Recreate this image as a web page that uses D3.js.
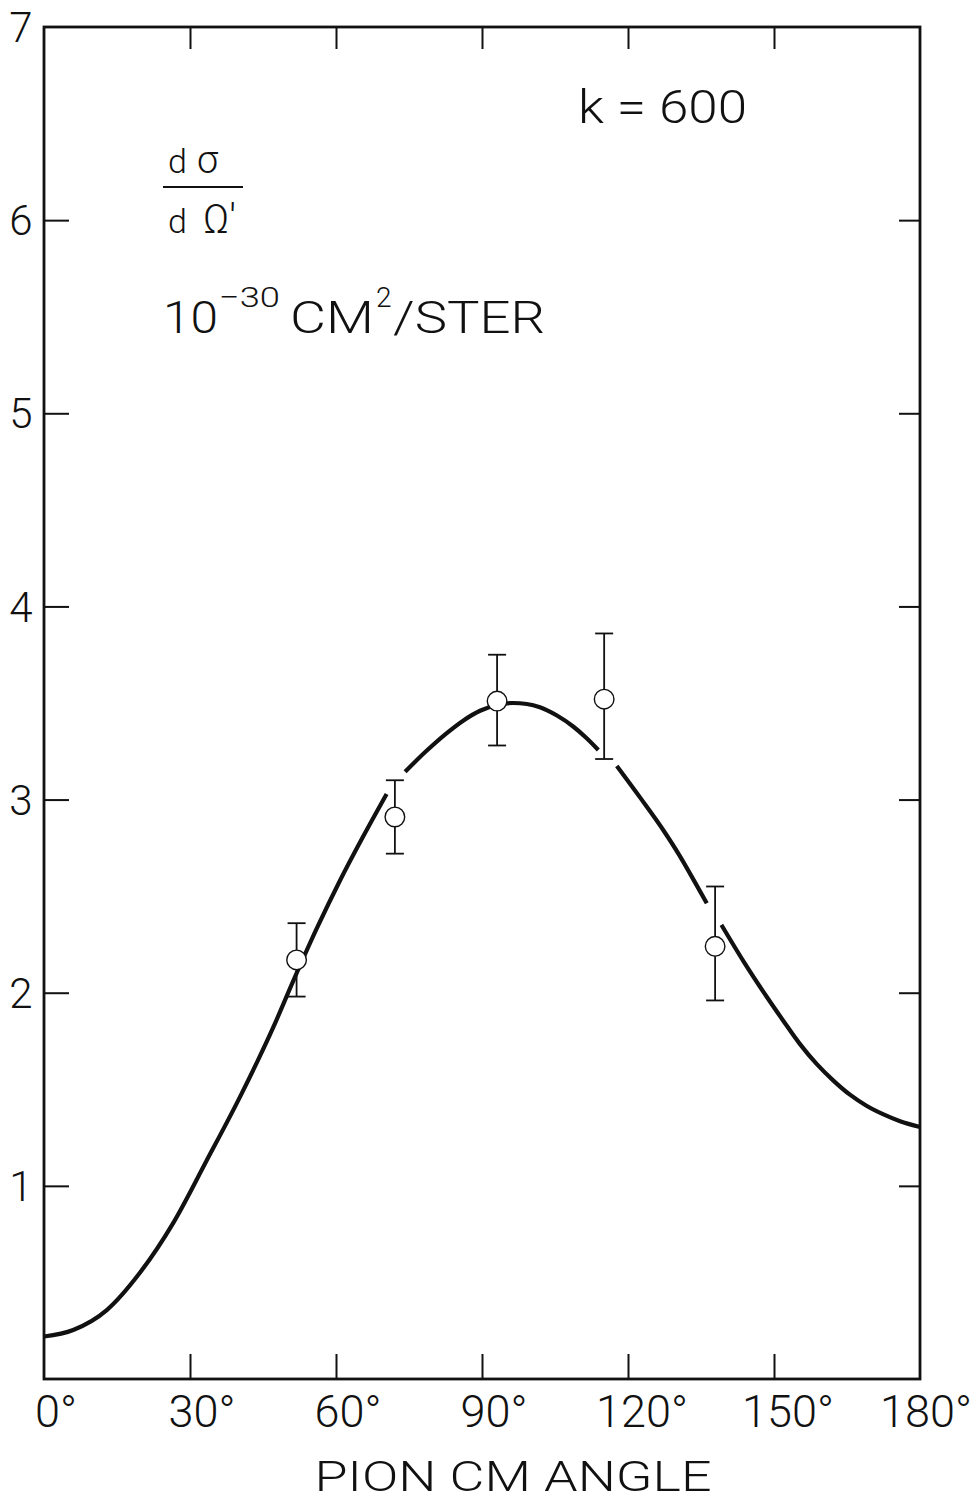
<!DOCTYPE html>
<html>
<head>
<meta charset="utf-8">
<script src="https://cdn.jsdelivr.net/npm/d3@7"></script>
<style>
  html, body { margin: 0; padding: 0; background: #fff; }
  svg { display: block; }
  text { font-family: Roboto, "Open Sans", "DejaVu Sans", sans-serif; font-weight: 300; fill: #111; }
</style>
</head>
<body>
<svg id="chart" width="977" height="1503"></svg>
<script>
// ---- data ----
const xTickValues = [0, 30, 60, 90, 120, 150, 180];
const xTickLabels = ["0°", "30°", "60°", "90°", "120°", "150°", "180°"];
const yTickValues = [1, 2, 3, 4, 5, 6, 7];
const yTickLabels = ["1", "2", "3", "4", "5", "6", "7"];

// measured points (pion CM angle, dσ/dΩ')
const pointAngles = [51.9, 72.1, 93.1, 115.1, 137.9];
const pointValues = [2.17, 2.91, 3.51, 3.52, 2.24];
const errLow      = [1.98, 2.72, 3.28, 3.21, 1.96];
const errHigh     = [2.36, 3.10, 3.75, 3.86, 2.55];

// fitted curve (null = gap drawn in the original around error bars)
const curveAngles = [0, 6.0, 12.9, 19.7, 26.6, 33.4, 40.3, 47.1, 51.2, 56.0, 60.8, 65.6, 70.4,
                     72.3,
                     74.2, 78.5, 82.7, 86.2, 89.6, 93.0, 96.4, 99.2, 101.9, 105.4, 108.8, 111.4, 113.9,
                     115.8,
                     117.7, 122.5, 127.3, 130.6, 133.8, 136.2,
                     137.7,
                     139.2, 143.8, 148.5, 151.9, 155.3, 158.8, 162.2, 165.6, 169.0, 172.5, 175.9, 180];
const curveValues = [0.22, 0.254, 0.357, 0.55, 0.81, 1.13, 1.462, 1.82, 2.06, 2.33, 2.58, 2.81, 3.029,
                     null,
                     3.144, 3.25, 3.343, 3.41, 3.46, 3.49, 3.50, 3.495, 3.478, 3.435, 3.377, 3.32, 3.257,
                     null,
                     3.174, 3.01, 2.84, 2.71, 2.57, 2.463,
                     null,
                     2.351, 2.16, 1.979, 1.855, 1.735, 1.63, 1.545, 1.472, 1.415, 1.37, 1.335, 1.305];

// ---- layout ----
const svg = d3.select("#chart");
const x = d3.scaleLinear().domain([0, 180]).range([44, 920]);
const y = d3.scaleLinear().domain([0, 7]).range([1379, 27]);

const ink = "#111";

const innerX = xTickValues.filter(v => v > 0 && v < 180);
const innerY = yTickValues.filter(v => v > 0 && v < 7);

function styleAxis(g) {
  g.select(".domain").remove();
  g.selectAll("line").attr("stroke", ink).attr("stroke-width", 2);
}

svg.append("g").attr("transform", `translate(0,${y(0)})`)
  .call(d3.axisTop(x).tickValues(innerX).tickSize(25).tickFormat("")).call(styleAxis);
svg.append("g").attr("transform", `translate(0,${y(7)})`)
  .call(d3.axisBottom(x).tickValues(innerX).tickSize(22).tickFormat("")).call(styleAxis);
svg.append("g").attr("transform", `translate(${x(0)},0)`)
  .call(d3.axisRight(y).tickValues(innerY).tickSize(25).tickFormat("")).call(styleAxis);
svg.append("g").attr("transform", `translate(${x(180)},0)`)
  .call(d3.axisLeft(y).tickValues(innerY).tickSize(21).tickFormat("")).call(styleAxis);

// frame
svg.append("rect")
  .attr("x", x(0)).attr("y", y(7))
  .attr("width", x(180) - x(0)).attr("height", y(0) - y(7))
  .attr("fill", "none").attr("stroke", ink).attr("stroke-width", 2.8);

// y tick labels
svg.append("g").selectAll("text").data(yTickValues).join("text")
  .attr("x", 21).attr("y", d => y(d)).attr("dy", "0.36em")
  .attr("text-anchor", "middle").attr("font-size", 42)
  .text((d, i) => yTickLabels[i]);

// x tick labels
const xl = svg.append("g").selectAll("text").data(xTickValues).join("text")
  .attr("x", d => x(d) + (d >= 100 ? 14 : 12)).attr("y", 1427)
  .attr("text-anchor", "middle").attr("font-size", 45)
  .text((d, i) => xTickLabels[i]);
xl.each(function () {
  const b = this.getBBox();
  if (b.x + b.width > 972) d3.select(this).attr("x", +d3.select(this).attr("x") - (b.x + b.width - 972));
});

// x axis title
svg.append("text").attr("x", 513).attr("y", 1491).attr("text-anchor", "middle")
  .attr("font-size", 43).attr("textLength", 397).attr("lengthAdjust", "spacingAndGlyphs")
  .text("PION CM ANGLE");

// annotations
svg.append("text").attr("x", 578).attr("y", 123).attr("font-size", 46)
  .attr("textLength", 169).attr("lengthAdjust", "spacingAndGlyphs")
  .text("k = 600");

const dSig = svg.append("text").attr("y", 173).attr("font-size", 34);
dSig.append("tspan").attr("x", 168).text("d");
dSig.append("tspan").attr("x", 197).attr("font-size", 38).text("σ");
svg.append("line").attr("x1", 163).attr("x2", 243).attr("y1", 187).attr("y2", 187)
  .attr("stroke", ink).attr("stroke-width", 1.8);
const dOm = svg.append("text").attr("y", 233).attr("font-size", 34);
dOm.append("tspan").attr("x", 168).text("d");
dOm.append("tspan").attr("x", 203).attr("font-size", 40).text("Ω′");

const unit = svg.append("text").attr("y", 333).attr("font-size", 44);
unit.append("tspan").attr("x", 163).attr("textLength", 55).attr("lengthAdjust", "spacingAndGlyphs").text("10");
unit.append("tspan").attr("x", 219).attr("y", 307).attr("font-size", 28)
  .attr("textLength", 61).attr("lengthAdjust", "spacingAndGlyphs").text("−30");
unit.append("tspan").attr("x", 290).attr("y", 333)
  .attr("textLength", 84).attr("lengthAdjust", "spacingAndGlyphs").text("CM");
unit.append("tspan").attr("x", 376).attr("y", 307).attr("font-size", 28).text("2");
unit.append("tspan").attr("x", 393).attr("y", 333)
  .attr("textLength", 152).attr("lengthAdjust", "spacingAndGlyphs").text("/STER");

// curve
const curveData = curveAngles.map((a, i) => ({ a, v: curveValues[i] }));
const line = d3.line()
  .defined(d => d.v !== null)
  .x(d => x(d.a)).y(d => y(d.v))
  .curve(d3.curveMonotoneX);
svg.append("path").datum(curveData)
  .attr("d", line).attr("fill", "none")
  .attr("stroke", ink).attr("stroke-width", 4.2).attr("stroke-linecap", "butt");

// error bars
const pts = pointAngles.map((a, i) => ({ a, v: pointValues[i], lo: errLow[i], hi: errHigh[i] }));
const eb = svg.append("g").attr("stroke", ink).attr("stroke-width", 1.8);
eb.selectAll("line.v").data(pts).join("line").attr("class", "v")
  .attr("x1", d => x(d.a)).attr("x2", d => x(d.a))
  .attr("y1", d => y(d.lo)).attr("y2", d => y(d.hi));
eb.selectAll("line.t").data(pts).join("line").attr("class", "t")
  .attr("x1", d => x(d.a) - 9).attr("x2", d => x(d.a) + 9)
  .attr("y1", d => y(d.hi)).attr("y2", d => y(d.hi));
eb.selectAll("line.b").data(pts).join("line").attr("class", "b")
  .attr("x1", d => x(d.a) - 9).attr("x2", d => x(d.a) + 9)
  .attr("y1", d => y(d.lo)).attr("y2", d => y(d.lo));

// open circles
svg.append("g").selectAll("circle").data(pts).join("circle")
  .attr("cx", d => x(d.a)).attr("cy", d => y(d.v)).attr("r", 9.8)
  .attr("fill", "#fff").attr("stroke", ink).attr("stroke-width", 1.4);
</script>
</body>
</html>
